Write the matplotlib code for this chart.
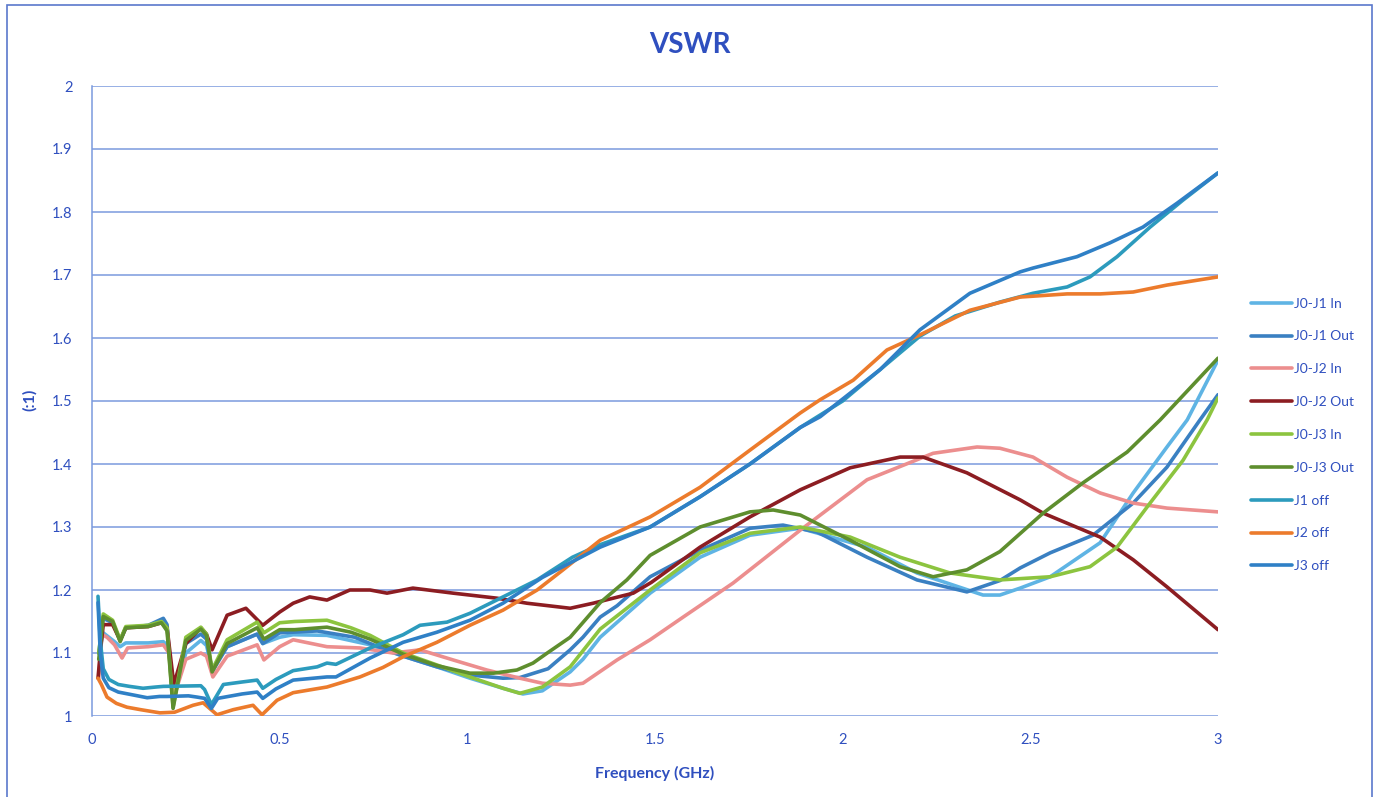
import matplotlib
matplotlib.use('Agg')
import matplotlib.pyplot as plt
from matplotlib.patches import Rectangle
import numpy as np

plt.rcParams['font.family'] = ['Lato', 'DejaVu Sans']

TEXT = '#2f4fbf'
GRID = '#7a9ade'

# (frequency GHz, VSWR)
J0_J1_IN = [
    (0.018, 1.10), (0.03, 1.132), (0.06, 1.118), (0.075, 1.11), (0.09, 1.116),
    (0.15, 1.116), (0.19, 1.118), (0.205, 1.11), (0.216, 1.03), (0.25, 1.10),
    (0.29, 1.12), (0.305, 1.112), (0.32, 1.075), (0.36, 1.11), (0.44, 1.13),
    (0.455, 1.115), (0.5, 1.125), (0.536, 1.129), (0.626, 1.128),
    (0.741, 1.113), (0.829, 1.095), (0.919, 1.078), (1.007, 1.06),
    (1.095, 1.044), (1.148, 1.035), (1.2, 1.04), (1.274, 1.07), (1.308, 1.09),
    (1.354, 1.125), (1.487, 1.195), (1.62, 1.252), (1.753, 1.287),
    (1.887, 1.298), (2.065, 1.268), (2.198, 1.227), (2.374, 1.192),
    (2.419, 1.192), (2.473, 1.203), (2.553, 1.221), (2.686, 1.275),
    (2.774, 1.354), (2.864, 1.427), (2.918, 1.470), (3.0, 1.565),
]
J0_J1_OUT = [
    (0.018, 1.10), (0.03, 1.155), (0.055, 1.148), (0.075, 1.12), (0.09, 1.14),
    (0.15, 1.144), (0.19, 1.155), (0.2, 1.145), (0.216, 1.02), (0.25, 1.115),
    (0.29, 1.13), (0.305, 1.122), (0.32, 1.07), (0.36, 1.11), (0.44, 1.13),
    (0.455, 1.115), (0.5, 1.132), (0.6, 1.135), (0.7, 1.125), (0.741, 1.115),
    (0.829, 1.095), (0.919, 1.078), (1.007, 1.065), (1.095, 1.060),
    (1.14, 1.061), (1.215, 1.075), (1.274, 1.105), (1.308, 1.125),
    (1.354, 1.157), (1.399, 1.175), (1.487, 1.221), (1.62, 1.263),
    (1.753, 1.298), (1.841, 1.303), (1.932, 1.292), (2.065, 1.252),
    (2.198, 1.216), (2.331, 1.197), (2.419, 1.215), (2.473, 1.235),
    (2.553, 1.259), (2.667, 1.287), (2.774, 1.338), (2.864, 1.395),
    (2.952, 1.470), (3.0, 1.51),
]
J0_J2_IN = [
    (0.018, 1.06), (0.025, 1.13), (0.04, 1.125), (0.06, 1.113), (0.08, 1.092),
    (0.095, 1.108), (0.15, 1.11), (0.19, 1.113), (0.205, 1.10), (0.218, 1.03),
    (0.25, 1.09), (0.29, 1.10), (0.305, 1.095), (0.322, 1.062), (0.36, 1.095),
    (0.44, 1.113), (0.458, 1.089), (0.5, 1.11), (0.536, 1.121), (0.626, 1.11),
    (0.714, 1.108), (0.802, 1.10), (0.874, 1.105), (0.962, 1.089),
    (1.052, 1.073), (1.14, 1.06), (1.2, 1.052), (1.274, 1.049),
    (1.308, 1.052), (1.399, 1.089), (1.487, 1.121), (1.575, 1.157),
    (1.708, 1.211), (1.887, 1.295), (2.065, 1.375), (2.241, 1.417),
    (2.358, 1.427), (2.419, 1.425), (2.507, 1.411), (2.598, 1.379),
    (2.686, 1.354), (2.774, 1.338), (2.864, 1.330), (3.0, 1.324),
]
J0_J2_OUT = [
    (0.016, 1.06), (0.022, 1.10), (0.03, 1.145), (0.055, 1.145),
    (0.075, 1.12), (0.09, 1.14), (0.15, 1.142), (0.185, 1.148), (0.2, 1.14),
    (0.218, 1.05), (0.25, 1.115), (0.29, 1.14), (0.305, 1.13), (0.32, 1.105),
    (0.36, 1.16), (0.41, 1.171), (0.455, 1.144), (0.5, 1.165), (0.536, 1.179),
    (0.58, 1.189), (0.626, 1.184), (0.687, 1.2), (0.741, 1.2), (0.786, 1.195),
    (0.855, 1.203), (0.962, 1.195), (1.079, 1.187), (1.159, 1.179),
    (1.274, 1.171), (1.335, 1.179), (1.442, 1.195), (1.49, 1.212),
    (1.62, 1.268), (1.753, 1.316), (1.887, 1.359), (2.02, 1.394),
    (2.153, 1.411), (2.214, 1.411), (2.331, 1.386), (2.473, 1.343),
    (2.534, 1.322), (2.686, 1.284), (2.774, 1.248), (2.864, 1.205),
    (3.0, 1.137),
]
J0_J3_IN = [
    (0.018, 1.10), (0.03, 1.162), (0.055, 1.152), (0.075, 1.121),
    (0.09, 1.142), (0.15, 1.144), (0.185, 1.15), (0.2, 1.14), (0.216, 1.014),
    (0.25, 1.125), (0.29, 1.141), (0.305, 1.13), (0.32, 1.073), (0.36, 1.121),
    (0.44, 1.149), (0.458, 1.132), (0.5, 1.148), (0.54, 1.15), (0.626, 1.152),
    (0.69, 1.14), (0.741, 1.128), (0.829, 1.10), (0.919, 1.081),
    (1.007, 1.062), (1.095, 1.044), (1.14, 1.036), (1.2, 1.046),
    (1.274, 1.078), (1.354, 1.138), (1.487, 1.2), (1.62, 1.259),
    (1.753, 1.290), (1.887, 1.30), (2.02, 1.284), (2.153, 1.252),
    (2.286, 1.227), (2.419, 1.216), (2.553, 1.221), (2.659, 1.237),
    (2.731, 1.268), (2.819, 1.338), (2.907, 1.406), (2.971, 1.470),
    (3.0, 1.505),
]
J0_J3_OUT = [
    (0.018, 1.09), (0.03, 1.158), (0.055, 1.15), (0.075, 1.118), (0.09, 1.14),
    (0.15, 1.142), (0.185, 1.148), (0.2, 1.135), (0.216, 1.012), (0.25, 1.12),
    (0.29, 1.138), (0.305, 1.128), (0.32, 1.07), (0.36, 1.115), (0.44, 1.14),
    (0.458, 1.122), (0.5, 1.137), (0.54, 1.137), (0.626, 1.141),
    (0.69, 1.133), (0.741, 1.122), (0.829, 1.098), (0.919, 1.08),
    (1.007, 1.068), (1.07, 1.068), (1.132, 1.073), (1.175, 1.084),
    (1.213, 1.10), (1.274, 1.125), (1.354, 1.18), (1.425, 1.216),
    (1.487, 1.255), (1.62, 1.30), (1.753, 1.324), (1.815, 1.327),
    (1.887, 1.319), (2.02, 1.279), (2.153, 1.237), (2.241, 1.221),
    (2.331, 1.232), (2.419, 1.261), (2.534, 1.322), (2.64, 1.37),
    (2.758, 1.419), (2.846, 1.47), (3.0, 1.568),
]
J1_OFF = [
    (0.016, 1.19), (0.022, 1.12), (0.03, 1.075), (0.045, 1.058), (0.07, 1.05),
    (0.1, 1.047), (0.136, 1.044), (0.17, 1.046), (0.19, 1.047), (0.29, 1.048),
    (0.30, 1.042), (0.318, 1.018), (0.35, 1.050), (0.40, 1.054),
    (0.44, 1.057), (0.455, 1.044), (0.49, 1.058), (0.536, 1.072),
    (0.6, 1.078), (0.626, 1.084), (0.65, 1.082), (0.741, 1.108),
    (0.829, 1.129), (0.874, 1.144), (0.946, 1.149), (1.007, 1.163),
    (1.095, 1.189), (1.186, 1.216), (1.28, 1.252), (1.354, 1.272),
    (1.487, 1.30), (1.62, 1.348), (1.753, 1.40), (1.887, 1.458),
    (2.0, 1.50), (2.1, 1.55), (2.206, 1.603), (2.3, 1.635), (2.419, 1.657),
    (2.507, 1.671), (2.598, 1.681), (2.659, 1.697), (2.731, 1.729),
    (2.819, 1.776), (2.907, 1.819), (3.0, 1.862),
]
J2_OFF = [
    (0.016, 1.06), (0.025, 1.05), (0.040, 1.030), (0.065, 1.020),
    (0.093, 1.014), (0.13, 1.010), (0.181, 1.005), (0.22, 1.006),
    (0.269, 1.017), (0.296, 1.021), (0.333, 1.002), (0.376, 1.010),
    (0.429, 1.017), (0.453, 1.002), (0.493, 1.025), (0.536, 1.037),
    (0.626, 1.046), (0.714, 1.062), (0.775, 1.077), (0.829, 1.094),
    (0.919, 1.117), (1.007, 1.144), (1.095, 1.168), (1.186, 1.2),
    (1.255, 1.232), (1.354, 1.279), (1.487, 1.316), (1.62, 1.363),
    (1.753, 1.422), (1.887, 1.481), (1.94, 1.502), (2.028, 1.533),
    (2.118, 1.581), (2.206, 1.605), (2.339, 1.644), (2.473, 1.665),
    (2.598, 1.670), (2.686, 1.670), (2.774, 1.673), (2.864, 1.684),
    (3.0, 1.697),
]
J3_OFF = [
    (0.016, 1.18), (0.022, 1.10), (0.03, 1.06), (0.045, 1.045), (0.07, 1.038),
    (0.113, 1.033), (0.147, 1.029), (0.18, 1.031), (0.2, 1.031),
    (0.257, 1.032), (0.28, 1.03), (0.30, 1.028), (0.318, 1.012),
    (0.335, 1.028), (0.40, 1.035), (0.44, 1.038), (0.455, 1.028),
    (0.49, 1.043), (0.536, 1.057), (0.626, 1.062), (0.65, 1.062),
    (0.741, 1.092), (0.829, 1.117), (0.919, 1.133), (1.007, 1.152),
    (1.095, 1.179), (1.20, 1.22), (1.28, 1.245), (1.354, 1.268),
    (1.487, 1.30), (1.62, 1.348), (1.753, 1.40), (1.887, 1.458),
    (1.94, 1.475), (2.1, 1.55), (2.206, 1.613), (2.339, 1.671),
    (2.473, 1.705), (2.507, 1.711), (2.624, 1.729), (2.712, 1.751),
    (2.80, 1.776), (2.891, 1.814), (3.0, 1.862),
]

SERIES = [
    ('J0-J1 In', J0_J1_IN, '#5fb4e4'),
    ('J0-J1 Out', J0_J1_OUT, '#3a80c2'),
    ('J0-J2 In', J0_J2_IN, '#ec8e8e'),
    ('J0-J2 Out', J0_J2_OUT, '#8c1d22'),
    ('J0-J3 In', J0_J3_IN, '#8cc43f'),
    ('J0-J3 Out', J0_J3_OUT, '#5e8e2e'),
    ('J1 off', J1_OFF, '#2c9bbd'),
    ('J2 off', J2_OFF, '#ec7b2c'),
    ('J3 off', J3_OFF, '#2f80c6'),
]

fig = plt.figure(figsize=(13.84, 7.97), dpi=100)
ax = fig.add_axes([92 / 1384, 1 - 716 / 797, (1218 - 92) / 1384, (716 - 86) / 797])

for label, pts, color in SERIES:
  pts = np.array(pts)
  ax.plot(pts[:, 0], pts[:, 1], color=color, lw=2.6, label=label,
          solid_capstyle='round', solid_joinstyle='round')

ax.set_xlim(0, 3)
ax.set_ylim(1, 2)
ax.set_xticks([0, 0.5, 1, 1.5, 2, 2.5, 3])
ax.set_xticklabels(['0', '0.5', '1', '1.5', '2', '2.5', '3'])
ax.set_yticks(np.round(np.arange(1, 2.01, 0.1), 1))
ax.set_yticklabels(['1', '1.1', '1.2', '1.3', '1.4', '1.5', '1.6', '1.7',
                    '1.8', '1.9', '2'])
ax.yaxis.grid(True, color=GRID, lw=1.1)
ax.set_axisbelow(True)
for side in ('top', 'right', 'bottom'):
  ax.spines[side].set_visible(False)
ax.spines['left'].set_color(GRID)
ax.spines['left'].set_linewidth(1.1)
ax.tick_params(axis='both', length=0, labelcolor=TEXT, labelsize=10.5)
ax.tick_params(axis='y', pad=14)
ax.tick_params(axis='x', pad=12)

ax.set_xlabel('Frequency (GHz)', color=TEXT, fontsize=11.5,
              fontweight='bold', labelpad=14)
fig.text(30 / 1384, 1 - 400 / 797, '(:1)', rotation=90, color=TEXT,
         fontsize=11.5, fontweight='bold', ha='center', va='center')
fig.text(690 / 1384, 1 - 45 / 797, 'VSWR', color=TEXT, fontsize=20,
         fontweight='bold', ha='center', va='center')

leg = fig.legend(loc='upper left', bbox_to_anchor=(1245 / 1384, 1 - 292 / 797),
                 frameon=False, fontsize=10, labelspacing=1.5,
                 handlelength=3.0, handletextpad=0.15, borderaxespad=0)
for text in leg.get_texts():
  text.set_color(TEXT)

fig.patches.append(Rectangle(
    (7 / 1384, -0.01), (1372 - 7) / 1384, 1.01 - 5 / 797,
    transform=fig.transFigure, fill=False, edgecolor='#5a78cc', lw=1.2))

fig.savefig('out.png', dpi=100)
